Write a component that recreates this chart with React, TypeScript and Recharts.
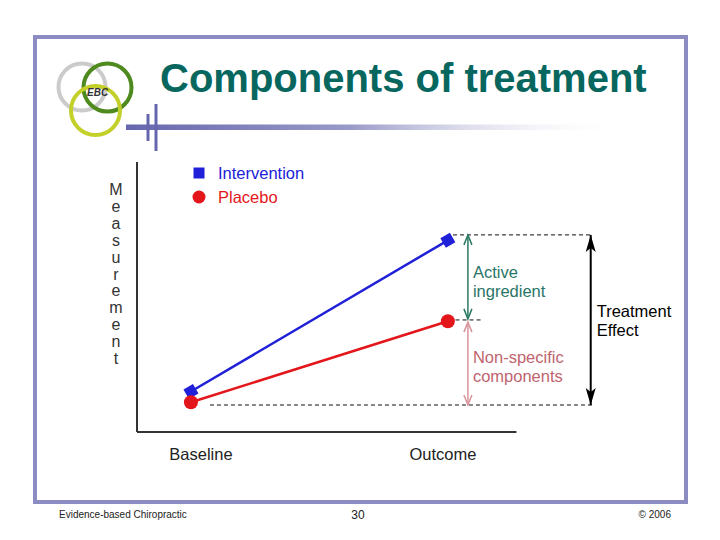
import { LineChart, Line, XAxis, YAxis, ReferenceLine, Legend } from 'recharts'

const FONT = '"Liberation Sans", Arial, sans-serif'

// chart data
const stages = ['Baseline', 'Outcome']
const stagePos = [1, 2]
const intervention = [1.5, 7.1]
const placebo = [1.1, 4.1]

// levels used by the effect brackets (same measurement scale)
const levelTop = 7.3
const levelMid = 4.15
const levelBase = 1.0

const data = stages.map((stage, i) => ({
  stage,
  pos: stagePos[i],
  intervention: intervention[i],
  placebo: placebo[i],
}))

const BLUE = '#2020D8'
const RED = '#E3161B'

// eslint-disable-next-line @typescript-eslint/no-explicit-any
const SquareDot = (p: any) => {
  const { cx, cy, index } = p
  if (cx == null || cy == null) return <g key={`sq-${index}`} />
  return (
    <rect
      key={`sq-${index}`}
      x={cx - 5.5}
      y={cy - 5.5}
      width={11}
      height={11}
      fill={BLUE}
      transform={`rotate(-30 ${cx} ${cy})`}
    />
  )
}

// eslint-disable-next-line @typescript-eslint/no-explicit-any
const RoundDot = (p: any) => {
  const { cx, cy, index } = p
  if (cx == null || cy == null) return <g key={`rd-${index}`} />
  return <circle key={`rd-${index}`} cx={cx} cy={cy} r={7} fill={RED} />
}

// eslint-disable-next-line @typescript-eslint/no-explicit-any
const StageTick = ({ x, y, payload }: any) => {
  const label = stages[stagePos.indexOf(payload.value)] ?? ''
  const nudge = label === 'Baseline' ? 10 : -5
  return (
    <text x={x + nudge} y={y + 28} textAnchor="middle" fontSize={16.5} fontFamily={FONT} fill="#222">
      {label}
    </text>
  )
}

// eslint-disable-next-line @typescript-eslint/no-explicit-any
const MeasureLabel = ({ viewBox }: any) => {
  const vx = viewBox?.x ?? 97
  const vy = viewBox?.y ?? 162
  const vw = viewBox?.width ?? 40
  return (
    <text fontSize={16} fontFamily={FONT} fill="#333" textAnchor="middle">
      {'Measurement'.split('').map((ch, i) => (
        <tspan key={i} x={vx + vw - 21} y={vy + 33 + i * 16.9}>
          {ch}
        </tspan>
      ))}
    </text>
  )
}

// eslint-disable-next-line @typescript-eslint/no-explicit-any
const renderLegend = (props: any) => {
  const items = props.payload ?? []
  return (
    <div style={{ fontFamily: FONT, fontSize: 16.5 }}>
      {/* eslint-disable-next-line @typescript-eslint/no-explicit-any */}
      {items.map((it: any) => (
        <div key={it.value} style={{ display: 'flex', alignItems: 'center', height: 24, color: it.color }}>
          <svg width={14} height={14} style={{ marginRight: 12 }}>
            {it.dataKey === 'intervention' ? (
              <rect x={1.5} y={1.5} width={11} height={11} fill={BLUE} />
            ) : (
              <circle cx={7} cy={7} r={6.5} fill={RED} />
            )}
          </svg>
          <span>{it.value}</span>
        </div>
      ))}
    </div>
  )
}

const bracket =
  (color: string, filled: boolean, lines: string[], textColor: string, dx: number, shift: number) =>
  // eslint-disable-next-line @typescript-eslint/no-explicit-any
  (p: any) => {
    const { x1, y1, y2 } = p
    const top = Math.min(y1, y2)
    const bottom = Math.max(y1, y2)
    const mid = (top + bottom) / 2
    const heads = filled ? (
      <>
        <polygon points={`${x1},${top} ${x1 - 5},${top + 17} ${x1},${top + 13} ${x1 + 5},${top + 17}`} fill={color} />
        <polygon
          points={`${x1},${bottom} ${x1 - 5},${bottom - 17} ${x1},${bottom - 13} ${x1 + 5},${bottom - 17}`}
          fill={color}
        />
      </>
    ) : (
      <path
        d={`M${x1 - 4},${top + 10} L${x1},${top} L${x1 + 4},${top + 10} M${x1 - 4},${bottom - 10} L${x1},${bottom} L${x1 + 4},${bottom - 10}`}
        stroke={color}
        strokeWidth={1.5}
        fill="none"
      />
    )
    return (
      <g>
        <line x1={x1} y1={top} x2={x1} y2={bottom} stroke={color} strokeWidth={filled ? 2 : 1.5} />
        {heads}
        <text fontSize={16.5} fontFamily={FONT} fill={textColor}>
          {lines.map((l, i) => (
            <tspan key={i} x={x1 + dx} y={mid - 9.5 * (lines.length - 1) + shift + 6 + i * 19}>
              {l}
            </tspan>
          ))}
        </text>
      </g>
    )
  }

const Slide = () => (
  <svg width={720} height={540} style={{ position: 'absolute', left: 0, top: 0 }}>
    <defs>
      <linearGradient id="barGrad" x1="0" y1="0" x2="1" y2="0">
        <stop offset="0%" stopColor="#6666AE" />
        <stop offset="45%" stopColor="#9A9AC8" />
        <stop offset="100%" stopColor="#FFFFFF" stopOpacity={0} />
      </linearGradient>
    </defs>
    <rect x={35} y={37} width={651} height={465} fill="none" stroke="#8C8CC2" strokeWidth={4} />
    <circle cx={82} cy={87} r={23.5} fill="none" stroke="#CBCBCB" strokeWidth={4} />
    <circle cx={107.5} cy={87.5} r={24} fill="none" stroke="#4E8A1E" strokeWidth={4} />
    <circle cx={95.5} cy={110.5} r={24.5} fill="none" stroke="#C3D02A" strokeWidth={4} />
    <text x={87} y={96} fontSize={10} fontWeight="bold" fontStyle="italic" fontFamily={FONT} fill="#333">
      EBC
    </text>
    <text x={160} y={92} fontSize={40} fontWeight="bold" fontFamily={FONT} fill="#07675F">
      Components of treatment
    </text>
    <rect x={126} y={124.5} width={500} height={5.5} fill="url(#barGrad)" />
    <rect x={146.5} y={114} width={3} height={27} fill="#6666AE" />
    <rect x={154.5} y={104} width={3} height={47} fill="#6666AE" />
    <text x={59} y={518} fontSize={10} fontFamily={FONT} fill="#222">
      Evidence-based Chiropractic
    </text>
    <text x={358} y={519} fontSize={12} fontFamily={FONT} fill="#222" textAnchor="middle">
      30
    </text>
    <text x={671} y={518} fontSize={10} fontFamily={FONT} fill="#222" textAnchor="end">
      © 2006
    </text>
  </svg>
)

export default function App() {
  return (
    <div style={{ position: 'absolute', left: 0, top: 0, width: 720, height: 540, background: '#fff' }}>
      <Slide />
      <div style={{ position: 'absolute', left: 0, top: 0 }}>
        <LineChart width={720} height={540} data={data} margin={{ top: 162, right: 100, left: 97, bottom: 78 }}>
          <XAxis
            dataKey="pos"
            type="number"
            domain={[0.79, 2.67]}
            ticks={stagePos}
            tick={<StageTick />}
            axisLine={false}
            tickLine={false}
            tickSize={0}
            tickMargin={0}
            height={30}
          />
          <YAxis
            type="number"
            domain={[0, 10]}
            width={40}
            tick={false}
            tickLine={false}
            axisLine={{ stroke: '#333', strokeWidth: 2 }}
            label={<MeasureLabel />}
          />
          <ReferenceLine segment={[{ x: 0.79, y: 0 }, { x: 2.267, y: 0 }]} stroke="#333" strokeWidth={2} />
          <ReferenceLine
            segment={[{ x: 2.02, y: levelTop }, { x: 2.565, y: levelTop }]}
            stroke="#111"
            strokeDasharray="4 3"
          />
          <ReferenceLine
            segment={[{ x: 2.03, y: levelMid }, { x: 2.13, y: levelMid }]}
            stroke="#111"
            strokeDasharray="4 3"
          />
          <ReferenceLine
            segment={[{ x: 1.074, y: levelBase }, { x: 2.565, y: levelBase }]}
            stroke="#111"
            strokeDasharray="4 3"
          />
          <ReferenceLine
            segment={[{ x: 2.078, y: levelTop }, { x: 2.078, y: levelMid + 0.04 }]}
            shape={bracket('#2A7A64', false, ['Active', 'ingredient'], '#2A7568', 5, 5)}
          />
          <ReferenceLine
            segment={[{ x: 2.078, y: levelMid - 0.08 }, { x: 2.078, y: levelBase }]}
            shape={bracket('#D9959B', false, ['Non-specific', 'components'], '#C0646E', 5, 3)}
          />
          <ReferenceLine
            segment={[{ x: 2.556, y: levelTop }, { x: 2.556, y: levelBase }]}
            shape={bracket('#000', true, ['Treatment', 'Effect'], '#000', 6, 1)}
          />
          <Legend
            layout="vertical"
            align="center"
            verticalAlign="middle"
            wrapperStyle={{ top: 161, left: 192, width: 160 }}
            content={renderLegend}
          />
          <Line
            dataKey="intervention"
            name="Intervention"
            stroke={BLUE}
            strokeWidth={2.5}
            dot={SquareDot}
            isAnimationActive={false}
          />
          <Line
            dataKey="placebo"
            name="Placebo"
            stroke={RED}
            strokeWidth={2.5}
            dot={RoundDot}
            isAnimationActive={false}
          />
        </LineChart>
      </div>
    </div>
  )
}
